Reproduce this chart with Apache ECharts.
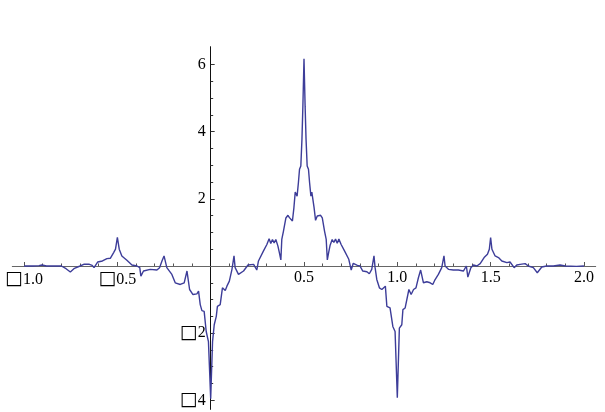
<!DOCTYPE html>
<html>
<head>
<meta charset="utf-8">
<script src="https://cdn.jsdelivr.net/npm/echarts@6/dist/echarts.min.js"></script>
<style>
html,body{margin:0;padding:0;background:#fff;}
#c{width:605px;height:412px;}
</style>
</head>
<body>
<div id="c"></div>
<script>
// Curve samples
var xs = [
-1.0,-0.95,-0.92,-0.904,-0.88,-0.83,-0.80,-0.775,-0.752,-0.73,-0.70,-0.68,-0.65,-0.635,-0.625,-0.605,-0.58,-0.556,-0.538,-0.52,
-0.51,-0.50,-0.49,-0.476,-0.449,-0.422,-0.395,-0.38,-0.374,-0.36,-0.324,-0.288,-0.274,-0.261,-0.25,-0.235,-0.208,-0.19,-0.163,-0.142,
-0.127,-0.113,-0.095,-0.074,-0.065,-0.056,-0.047,-0.035,-0.024,-0.012,0.0,0.01,0.019,0.03,0.036,0.051,0.063,0.078,0.087,0.10,
0.114,0.125,0.131,0.149,0.176,0.20,0.23,0.247,0.256,0.283,0.301,0.313,0.322,0.331,0.34,0.349,0.36,0.368,0.376,0.381,
0.39,0.403,0.414,0.422,0.431,0.438,0.446,0.453,0.458,0.463,0.47,0.476,0.483,0.489,0.494,0.5,0.506,0.511,0.517,0.524,
0.53,0.537,0.542,0.547,0.554,0.562,0.571,0.58,0.589,0.598,0.61,0.619,0.625,0.632,0.64,0.651,0.66,0.669,0.678,0.687,
0.699,0.717,0.74,0.753,0.764,0.786,0.80,0.815,0.837,0.85,0.863,0.875,0.881,0.89,0.904,0.917,0.926,0.936,0.944,0.961,
0.97,0.976,0.988,1.0,1.011,1.024,1.03,1.042,1.051,1.062,1.074,1.087,1.1,1.113,1.125,1.14,1.158,1.176,1.19,1.2,
1.22,1.238,1.25,1.256,1.274,1.3,1.327,1.354,1.37,1.378,1.394,1.408,1.426,1.444,1.465,1.483,1.493,1.5,1.507,1.524,
1.542,1.56,1.587,1.604,1.613,1.626,1.64,1.658,1.685,1.702,1.729,1.75,1.774,1.8,1.836,1.872,1.9,1.96,2.0
];
var ys = [
0.0,0.0,0.01,0.03,0.0,0.0,0.0,-0.08,-0.18,-0.07,0.0,0.05,0.05,0.02,-0.05,0.12,0.15,0.22,0.23,0.4,
0.5,0.85,0.5,0.3,0.17,0.03,0.0,-0.05,-0.3,-0.15,-0.1,-0.12,-0.05,0.15,0.3,-0.05,-0.25,-0.5,-0.55,-0.5,
-0.15,-0.7,-0.85,-0.83,-0.75,-1.15,-1.33,-1.35,-1.95,-2.25,-3.95,-2.25,-1.75,-1.5,-1.2,-1.15,-0.65,-0.73,-0.6,-0.45,
-0.1,0.3,-0.05,-0.25,-0.15,0.03,0.05,-0.12,0.15,0.45,0.64,0.81,0.67,0.79,0.69,0.79,0.6,0.4,0.18,0.79,
1.04,1.43,1.51,1.44,1.49,1.34,1.74,2.2,2.23,2.08,2.48,2.88,2.98,3.77,4.76,6.17,4.76,3.77,2.98,2.88,
2.48,2.08,2.2,2.18,1.74,1.36,1.49,1.44,1.51,1.43,1.04,0.79,0.18,0.4,0.62,0.79,0.7,0.8,0.68,0.8,
0.64,0.45,0.2,-0.12,0.08,0.02,0.0,-0.15,-0.17,-0.23,-0.1,0.3,-0.05,-0.4,-0.65,-0.7,-0.73,-0.6,-1.2,-1.25,
-1.3,-1.8,-1.95,-3.92,-1.85,-1.75,-1.3,-1.25,-1.2,-0.7,-0.85,-0.7,-0.65,-0.35,-0.12,-0.5,-0.47,-0.5,-0.55,-0.43,
-0.25,-0.05,0.3,0.0,-0.1,-0.12,-0.12,-0.15,0.0,-0.33,-0.05,0.03,0.0,0.07,0.25,0.35,0.5,0.85,0.5,0.3,
0.25,0.15,0.1,0.12,0.07,-0.05,0.03,0.05,0.07,0.0,-0.05,-0.2,-0.03,0.0,0.0,0.03,0.0,-0.01,0.0
];
// Tick values and labels
var xMajor = [-1.0,-0.5,0.5,1.0,1.5,2.0];
var xMajorLabels = ['\u25A11.0','\u25A10.5','0.5','1.0','1.5','2.0'];
var xMinor = [-0.9,-0.8,-0.7,-0.6,-0.4,-0.3,-0.2,-0.1,0.1,0.2,0.3,0.4,0.6,0.7,0.8,0.9,1.1,1.2,1.3,1.4,1.6,1.7,1.8,1.9];
var yMajor = [-4,-2,2,4,6];
var yMajorLabels = ['\u25A14','\u25A12','2','4','6'];
var yMinor = [-3.5,-3,-2.5,-1.5,-1,-0.5,0.5,1,1.5,2.5,3,3.5,4.5,5,5.5];

var X_MIN = -1.063, X_MAX = 2.063, Y_MIN = -4.27, Y_MAX = 6.53;
var W_PX = 605, H_PX = 412;
var G = {left: 12.3, right: 9.3, top: 46.7, bottom: 2.6};
var gw = W_PX - G.left - G.right, gh = H_PX - G.top - G.bottom;
// pixel distance of the zero lines from each grid edge (axes cross at the origin)
var zeroFromLeft = (0 - X_MIN) / (X_MAX - X_MIN) * gw;
var zeroFromRight = gw - zeroFromLeft;
var zeroFromTop = (Y_MAX - 0) / (Y_MAX - Y_MIN) * gh;
var zeroFromBottom = gh - zeroFromTop;

function fmt(vals, labels) {
  return function (v) {
    for (var i = 0; i < vals.length; i++) {
      if (Math.abs(vals[i] - v) < 1e-6) {
        var t = labels[i];
        if (t.charAt(0) === '\u25A1') return '{b|\u25A1}{n|' + t.slice(1) + '}';
        return '{n|' + t + '}';
      }
    }
    return '';
  };
}

var SERIF = "'Liberation Serif', 'Times New Roman', Times, serif";
var pts = xs.map(function (x, i) { return [x, ys[i]]; });
var labelFont = {fontFamily: SERIF, fontSize: 16, color: '#000'};
var rich = {
  b: {fontFamily: "'DejaVu Sans'", fontSize: 19, color: '#000'},
  n: {fontFamily: SERIF, fontSize: 16, color: '#000'}
};

var chart = echarts.init(document.getElementById('c'), null, {renderer: 'canvas'});
chart.setOption({
  animation: false,
  backgroundColor: '#fff',
  textStyle: {fontFamily: SERIF},
  grid: {left: G.left, right: G.right, top: G.top, bottom: G.bottom, outerBoundsMode: 'none'},
  xAxis: [{
    type: 'value', min: X_MIN, max: X_MAX, position: 'bottom', offset: -zeroFromBottom,
    axisLine: {show: true, onZero: false, lineStyle: {color: '#666', width: 1}},
    axisTick: {show: true, inside: true, length: 4, customValues: xMajor, lineStyle: {color: '#555'}},
    axisLabel: Object.assign({show: true, margin: 4, customValues: xMajor, formatter: fmt(xMajor, xMajorLabels), rich: rich}, labelFont),
    splitLine: {show: false}
  }, {
    type: 'value', min: X_MIN, max: X_MAX, position: 'top', offset: -zeroFromTop,
    axisLine: {show: false, onZero: false},
    axisTick: {show: true, inside: false, length: 2.5, customValues: xMinor, lineStyle: {color: '#555'}},
    axisLabel: {show: false},
    splitLine: {show: false}
  }],
  yAxis: [{
    type: 'value', min: Y_MIN, max: Y_MAX, position: 'left', offset: -zeroFromLeft,
    axisLine: {show: true, onZero: false, lineStyle: {color: '#111', width: 1}},
    axisTick: {show: true, inside: true, length: 4, customValues: yMajor, lineStyle: {color: '#333'}},
    axisLabel: Object.assign({show: true, margin: 5, customValues: yMajor, formatter: fmt(yMajor, yMajorLabels), rich: rich}, labelFont),
    splitLine: {show: false}
  }, {
    type: 'value', min: Y_MIN, max: Y_MAX, position: 'right', offset: -zeroFromRight,
    axisLine: {show: false, onZero: false},
    axisTick: {show: true, inside: false, length: 2.5, customValues: yMinor, lineStyle: {color: '#333'}},
    axisLabel: {show: false},
    splitLine: {show: false}
  }],
  series: [{
    type: 'line', xAxisIndex: 0, yAxisIndex: 0,
    data: pts, showSymbol: false, smooth: false,
    lineStyle: {color: '#3d3d99', width: 1.4},
    z: 3
  }]
});
</script>
</body>
</html>
